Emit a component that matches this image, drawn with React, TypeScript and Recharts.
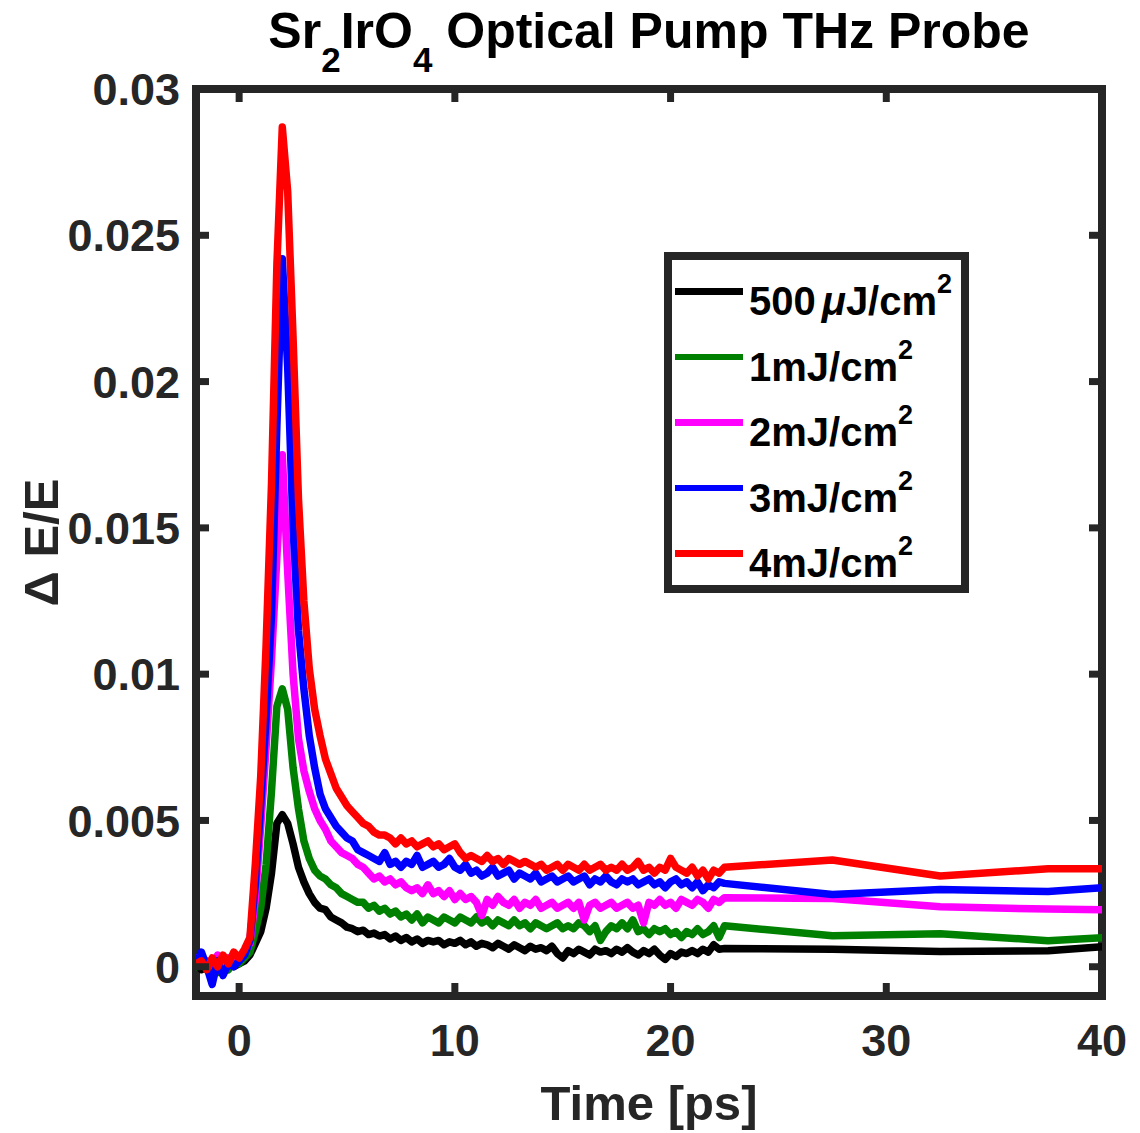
import { LineChart, Line, XAxis, YAxis, Legend, ReferenceArea } from "recharts";

// time axis [ps]
const time = [
  -2, -1.75, -1.5, -1.25, -1, -0.75, -0.5, -0.25, 0, 0.25, 0.5, 0.75, 1, 1.25, 1.5, 1.75, 2, 2.25, 2.5, 2.75,
  3, 3.25, 3.5, 3.75, 4, 4.25, 4.5, 4.75, 5, 5.25, 5.5, 5.75, 6, 6.25, 6.5, 6.75, 7, 7.25, 7.5, 7.75,
  8, 8.25, 8.5, 8.75, 9, 9.25, 9.5, 9.75, 10, 10.25, 10.5, 10.75, 11, 11.25, 11.5, 11.75, 12, 12.25, 12.5, 12.75,
  13, 13.25, 13.5, 13.75, 14, 14.25, 14.5, 14.75, 15, 15.25, 15.5, 15.75, 16, 16.25, 16.5, 16.75, 17, 17.25, 17.5, 17.75,
  18, 18.25, 18.5, 18.75, 19, 19.25, 19.5, 19.75, 20, 20.25, 20.5, 20.75, 21, 21.25, 21.5, 21.75, 22, 22.25, 22.5,
  27.5, 32.5, 37.5, 40,
];

// dE/E per pump fluence
const f500uJ = [
  0.0001, -0.0001, 0, 0.0001, -0.0001, 0, 0.0001, 0,
  0.0001, 0.0002, 0.0004, 0.0008, 0.0012, 0.002, 0.0032, 0.0049, 0.0052, 0.0049, 0.0042, 0.0034, 0.0029, 0.0025, 0.0022, 0.002, 0.00195, 0.0017, 0.0016, 0.0015, 0.00135, 0.0013, 0.0012, 0.00125, 0.0011,
  0.00115, 0.00105, 0.0011, 0.00095, 0.00105, 0.0009, 0.001, 0.00085, 0.00095, 0.0008, 0.0009, 0.00085, 0.0009, 0.00075, 0.00085, 0.0008, 0.0009, 0.00075, 0.00085, 0.0007,
  0.0008, 0.00075, 0.00065, 0.0008, 0.0007, 0.0006, 0.00075, 0.00065, 0.00055, 0.0007, 0.0006, 0.00065, 0.00055, 0.0007, 0.00045, 0.0003, 0.00055, 0.00045, 0.0006, 0.0005,
  0.0004, 0.0006, 0.0005, 0.00055, 0.00045, 0.0006, 0.0005, 0.00065, 0.0005, 0.0004, 0.00055, 0.00045, 0.0006, 0.0004, 0.00025, 0.00045, 0.00035, 0.0005, 0.00045, 0.00055,
  0.00045, 0.0006, 0.0005, 0.00075, 0.0006, 0.00062,
  0.0006, 0.00052, 0.00055, 0.00068,
];
const f1mJ = [
  0, 0.0002, -0.0001, 0.0001, -0.0002, 0.0001, -0.0001, 0.0002,
  0.0001, 0.0003, 0.0005, 0.0012, 0.002, 0.0035, 0.006, 0.0089, 0.0095, 0.0088, 0.0068, 0.0054, 0.0043, 0.0037, 0.0033, 0.0031, 0.003, 0.0028, 0.0027, 0.0025, 0.0024, 0.0023, 0.0022, 0.0022, 0.002,
  0.0021, 0.0019, 0.002, 0.0018, 0.0019, 0.0017, 0.0018, 0.0016, 0.0018, 0.0015, 0.0017, 0.0016, 0.0015, 0.0017, 0.0016, 0.0015, 0.0017, 0.0016, 0.0015, 0.0017,
  0.0015, 0.0016, 0.0014, 0.0016, 0.0015, 0.0014, 0.0016, 0.0014, 0.0015, 0.0013, 0.0015, 0.0014, 0.0013, 0.0014, 0.0015, 0.0013, 0.0014, 0.0013, 0.0015, 0.0014,
  0.0012, 0.0014, 0.0009, 0.0012, 0.0014, 0.0013, 0.0015, 0.0013, 0.0016, 0.0012, 0.0013, 0.0011, 0.0013, 0.0012, 0.0013, 0.0011, 0.0012, 0.001, 0.0012, 0.0011,
  0.0013, 0.0011, 0.0012, 0.0014, 0.001, 0.0014,
  0.00106, 0.00113, 0.00089, 0.00099,
];
const f2mJ = [
  0.0003, 0.0001, 0.0002, -0.0001, 0.0004, 0.0001, 0.0003, 0.0002,
  0.0003, 0.0005, 0.0008, 0.0023, 0.0048, 0.0075, 0.0105, 0.014, 0.0175, 0.0135, 0.01, 0.0078, 0.0067, 0.006, 0.0054, 0.005, 0.0047, 0.0043, 0.0041, 0.0039, 0.0038, 0.0037, 0.0035, 0.0034, 0.0032,
  0.003, 0.0031, 0.0029, 0.003, 0.0028, 0.0029, 0.0027, 0.0026, 0.0027, 0.0025, 0.0028, 0.0025, 0.0026, 0.0024, 0.0026, 0.0023, 0.0025, 0.0023, 0.0024, 0.0022,
  0.00175, 0.0023, 0.0021, 0.0024, 0.0022, 0.0021, 0.0023, 0.002, 0.0022, 0.0021, 0.0023, 0.002, 0.0021, 0.0022, 0.002, 0.0021, 0.0022, 0.002, 0.0022, 0.0016,
  0.0021, 0.0022, 0.002, 0.0021, 0.0022, 0.002, 0.0021, 0.0022, 0.002, 0.0021, 0.0015, 0.0022, 0.0021, 0.0023, 0.0021, 0.0022, 0.002, 0.0023, 0.0022, 0.0021,
  0.0023, 0.0022, 0.002, 0.0023, 0.0022, 0.00236,
  0.00233, 0.00205, 0.00197, 0.00195,
];
const f3mJ = [
  0.0001, 0.0005, 0, -0.0006, 0.0002, -0.0003, 0.0001, 0,
  0.0002, 0.0004, 0.0009, 0.0028, 0.0055, 0.0085, 0.012, 0.0185, 0.0242, 0.0205, 0.015, 0.0115, 0.0095, 0.0079, 0.0068, 0.0059, 0.0054, 0.0051, 0.0048, 0.0046, 0.0044, 0.0043, 0.004, 0.0039, 0.0038,
  0.0037, 0.0036, 0.0039, 0.0035, 0.0036, 0.0034, 0.0036, 0.0035, 0.0038, 0.0034, 0.0035, 0.0036, 0.0034, 0.0035, 0.0037, 0.0034, 0.0033, 0.0035, 0.0032, 0.0033,
  0.0031, 0.0032, 0.0034, 0.0031, 0.0032, 0.0033, 0.003, 0.0032, 0.0031, 0.003, 0.0032, 0.0029, 0.003, 0.0031, 0.0029, 0.003, 0.0031, 0.0029, 0.003, 0.0031,
  0.0028, 0.003, 0.0029, 0.0031, 0.0029, 0.0028, 0.003, 0.0029, 0.003, 0.0028, 0.0029, 0.003, 0.0028, 0.0029, 0.0027, 0.0029, 0.003, 0.0028, 0.0029, 0.0027,
  0.0029, 0.0026, 0.0028, 0.0027, 0.0029, 0.00285,
  0.00247, 0.00264, 0.00257, 0.0027,
];
const f4mJ = [
  0.0001, 0.0002, -0.0001, 0.0003, 0, 0.0004, 0.0001, 0.0005,
  0.0003, 0.0006, 0.001, 0.0035, 0.0065, 0.011, 0.0165, 0.024, 0.0287, 0.0265, 0.0215, 0.016, 0.0125, 0.0102, 0.0088, 0.0079, 0.0071, 0.0066, 0.0061, 0.0058, 0.0055, 0.0053, 0.0051, 0.0049, 0.0048,
  0.0046, 0.0045, 0.0045, 0.0044, 0.0042, 0.0044, 0.0042, 0.0043, 0.0041, 0.0042, 0.0043, 0.0041, 0.0042, 0.004, 0.0041, 0.0042, 0.0039, 0.0037, 0.0038, 0.0037,
  0.0036, 0.0038, 0.0036, 0.0037, 0.0035, 0.0037, 0.0036, 0.0035, 0.0036, 0.0035, 0.0034, 0.0035, 0.0033, 0.0034, 0.0035, 0.0033, 0.0035, 0.0034, 0.0033, 0.0035,
  0.0033, 0.0034, 0.0035, 0.0033, 0.0034, 0.0033, 0.0035, 0.0033, 0.0034, 0.0036, 0.0033, 0.0034, 0.0032, 0.0034, 0.0033, 0.0037, 0.0034, 0.0033, 0.0032, 0.0034,
  0.0031, 0.0033, 0.003, 0.0033, 0.0032, 0.0034,
  0.00365, 0.0031, 0.00335, 0.00335,
];

const xDomain = [-2, 40];
const yDomain = [-0.001, 0.03];
const xTicks = [0, 10, 20, 30, 40];
const yTicks = [0, 0.005, 0.01, 0.015, 0.02, 0.025, 0.03];

const series = [
  { key: "f500uJ", values: f500uJ, color: "#000000", label: "500", mu: true },
  { key: "f1mJ", values: f1mJ, color: "#008000", label: "1mJ/cm" },
  { key: "f2mJ", values: f2mJ, color: "#ff00ff", label: "2mJ/cm" },
  { key: "f3mJ", values: f3mJ, color: "#0000ff", label: "3mJ/cm" },
  { key: "f4mJ", values: f4mJ, color: "#ff0000", label: "4mJ/cm" },
];

const data = time.map((t, i) => {
  const row: Record<string, number> = { t };
  series.forEach((s) => (row[s.key] = s.values[i]));
  return row;
});

const W = 1140;
const H = 1133;
const MARGIN = { top: 89, right: 38, bottom: 7, left: 0 };
const PLOT_TOP = MARGIN.top;
const PLOT_RIGHT = W - MARGIN.right;

const FRAME = "#262626";
const FONT = "'Liberation Sans', Arial, Helvetica, sans-serif";
const TICK_LEN = 13;
const textProps = { fontSize: 45, fontWeight: "bold", fontFamily: FONT, fill: FRAME };

// MATLAB-style box: inward ticks on all four sides, labels only bottom/left
const BottomTick = ({ x, y, payload }: any) => (
  <g>
    <line x1={x} x2={x} y1={y} y2={y - TICK_LEN} stroke={FRAME} strokeWidth={7} />
    <line x1={x} x2={x} y1={PLOT_TOP} y2={PLOT_TOP + TICK_LEN} stroke={FRAME} strokeWidth={7} />
    <text x={x} y={y + 60} textAnchor="middle" {...textProps}>
      {String(payload.value)}
    </text>
  </g>
);
const LeftTick = ({ x, y, payload }: any) => (
  <g>
    <line x1={x} x2={x + TICK_LEN} y1={y} y2={y} stroke={FRAME} strokeWidth={7} />
    <line x1={PLOT_RIGHT} x2={PLOT_RIGHT - TICK_LEN} y1={y} y2={y} stroke={FRAME} strokeWidth={7} />
    <text x={x - 16} y={y} dy="0.36em" textAnchor="end" {...textProps}>
      {String(payload.value)}
    </text>
  </g>
);

function FluenceLegend() {
  return (
    <div
      style={{
        position: "relative",
        width: 289,
        height: 325,
        border: `8px solid ${FRAME}`,
        background: "#fff",
        fontFamily: FONT,
        fontWeight: "bold",
        color: "#000",
      }}
    >
      {series.map((s, i) => (
        <div key={s.key}>
          <div style={{ position: "absolute", left: 3, top: 28 + i * 65.5, width: 68, height: 6.5, background: s.color }} />
          <div style={{ position: "absolute", left: 77, top: 21 + i * 65.5, fontSize: 40, lineHeight: "40px", whiteSpace: "nowrap" }}>
            {s.label}
            {s.mu && (
              <>
                <span style={{ fontStyle: "italic", marginLeft: 6 }}>μ</span>J/cm
              </>
            )}
            <span style={{ fontSize: 27, position: "relative", top: -22 }}>2</span>
          </div>
        </div>
      ))}
    </div>
  );
}

const XLabel = ({ viewBox }: any) => (
  <text x={viewBox.x + viewBox.width / 2} y={1120} textAnchor="middle" fontSize={49} fontWeight="bold" fontFamily={FONT} fill={FRAME}>
    Time [ps]
  </text>
);

const YLabel = ({ viewBox }: any) => {
  const cy = viewBox.y + viewBox.height / 2;
  return (
    <text x={58} y={cy} transform={`rotate(-90 58 ${cy})`} textAnchor="middle" fontSize={49} fontWeight="bold" fontFamily={FONT} fill={FRAME}>
      Δ E/E
    </text>
  );
};

export default function App() {
  return (
    <div style={{ position: "absolute", left: 0, top: 0, width: W, height: H, background: "#fff" }}>
      <div
        style={{
          position: "absolute",
          left: 196,
          width: 906,
          top: 6,
          textAlign: "center",
          fontFamily: FONT,
          fontWeight: "bold",
          fontSize: 50,
          lineHeight: "50px",
          color: "#000",
          whiteSpace: "nowrap",
        }}
      >
        Sr<span style={{ fontSize: 35, position: "relative", top: 24 }}>2</span>IrO
        <span style={{ fontSize: 35, position: "relative", top: 24 }}>4</span> Optical Pump THz Probe
      </div>
      <LineChart width={W} height={H} data={data} margin={MARGIN}>
        <XAxis
          dataKey="t"
          type="number"
          domain={xDomain}
          ticks={xTicks}
          allowDataOverflow
          interval={0}
          height={130}
          tickSize={0}
          tickMargin={0}
          tick={BottomTick}
          tickLine={false}
          axisLine={false}
          label={XLabel}
        />
        <YAxis
          type="number"
          domain={yDomain}
          ticks={yTicks}
          allowDataOverflow
          interval={0}
          width={196}
          tickSize={0}
          tickMargin={0}
          tick={LeftTick}
          tickLine={false}
          axisLine={false}
          label={YLabel}
        />
        {series.map((s) => (
          <Line
            key={s.key}
            dataKey={s.key}
            stroke={s.color}
            strokeWidth={7.5}
            strokeLinejoin="round"
            strokeLinecap="round"
            dot={false}
            isAnimationActive={false}
          />
        ))}
        <ReferenceArea
          x1={xDomain[0]}
          x2={xDomain[1]}
          y1={yDomain[0]}
          y2={yDomain[1]}
          fill="none"
          fillOpacity={0}
          stroke={FRAME}
          strokeWidth={8}
          ifOverflow="visible"
        />
        <Legend
          layout="vertical"
          align="center"
          verticalAlign="middle"
          content={<FluenceLegend />}
          wrapperStyle={{ left: 664, top: 252, width: "auto", height: "auto" }}
        />
      </LineChart>
    </div>
  );
}
